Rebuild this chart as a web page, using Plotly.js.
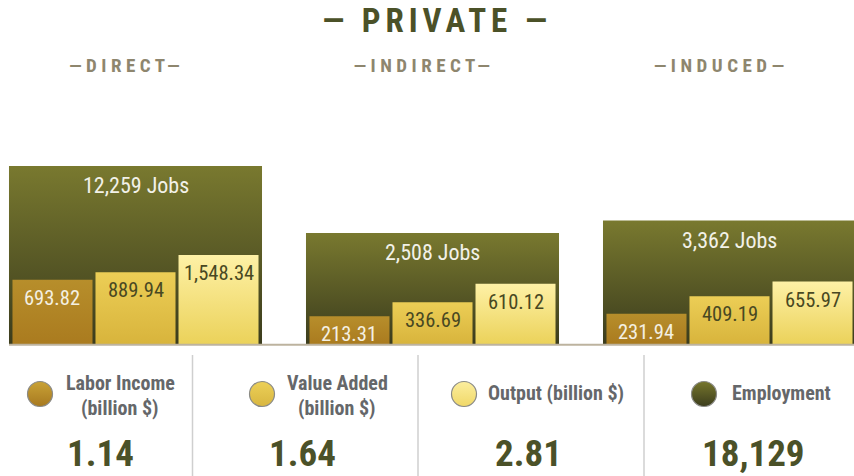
<!DOCTYPE html>
<html>
<head>
<meta charset="utf-8">
<script src="https://cdn.plot.ly/plotly-3.0.1.min.js"></script>
<style>
html,body{margin:0;padding:0;background:#fff;}
#chart{width:854px;height:476px;}
</style>
</head>
<body>
<div id="chart"></div>
<script>
// ---- data ----
const groups = ['DIRECT', 'INDIRECT', 'INDUCED'];
const employment = [12259, 2508, 3362];
const laborIncome = [693.82, 213.31, 231.94];
const valueAdded = [889.94, 336.69, 409.19];
const output = [1548.34, 610.12, 655.97];
const seriesNames = ['Labor Income', 'Value Added', 'Output', 'Employment'];

// ---- styling ----
const FONT = '"Roboto Condensed", "Liberation Sans Narrow", Roboto, sans-serif';
const OLIVE = '#4b5128';
const xs = groups.map((g, i) => i);
const innerW = 0.2694;
const innerCenters = [-0.2795, 0, 0.2795];
const innerSeries = [laborIncome, valueAdded, output];
const innerLabelColors = ['#f4f0e2', '#484822', '#484822'];
const yRange = [2.257, 2.257 + 194 / 97.2];
const y2Range = [1.94, 1.94 + 194 / 71.2];

const fmt2 = v => v.toLocaleString('en-US', {minimumFractionDigits: 2, maximumFractionDigits: 2});
const fmt0 = v => v.toLocaleString('en-US');
const sum = a => a.reduce((s, v) => s + v, 0);

const data = [];
data.push({
  type: 'bar', name: seriesNames[3], x: xs, y: employment, width: 0.8519,
  yaxis: 'y', xaxis: 'x', marker: {color: '#5a5a26', line: {width: 0}},
  hoverinfo: 'skip', showlegend: false
});
innerSeries.forEach((vals, k) => {
  data.push({
    type: 'bar', name: seriesNames[k], x: xs, y: vals, width: innerW,
    offset: innerCenters[k] - innerW / 2,
    yaxis: 'y2', xaxis: 'x', marker: {color: ['#b3882a', '#e2c24a', '#f6e27e'][k], line: {width: 0}},
    hoverinfo: 'skip', showlegend: false
  });
});

const ann = [];
employment.forEach((v, i) => {
  ann.push({x: xs[i], y: Math.log10(v), xref: 'x', yref: 'y', text: fmt0(v) + ' Jobs',
    showarrow: false, yanchor: 'middle', yshift: -20,
    font: {family: FONT, size: 22, color: '#f2f1e8'}});
});
innerSeries.forEach((vals, k) => {
  vals.forEach((v, i) => {
    ann.push({x: xs[i] + innerCenters[k], y: Math.log10(v), xref: 'x', yref: 'y2', text: fmt2(v),
      showarrow: false, yanchor: 'middle', yshift: -18,
      font: {family: FONT, size: 20.5, color: innerLabelColors[k]}});
  });
});
const subX = [126.5, 423.5, 721];
const subStart = ann.length;
groups.forEach((g, i) => {
  ann.push({x: subX[i] / 854, y: (344 - 65) / 194, xref: 'paper', yref: 'paper', text: '—' + g + '—',
    showarrow: false, xanchor: 'center', yanchor: 'middle',
    font: {family: FONT, size: 19, color: '#8e866e', weight: 'bold'}});
});
const subEnd = ann.length;
const P = (px, py) => ({x: px / 854, y: (344 - py) / 194});
const legText = [
  {t: 'Labor Income', p: P(120.5, 383)},
  {t: '(billion $)', p: P(120.5, 408)},
  {t: 'Value Added', p: P(337, 383)},
  {t: '(billion $)', p: P(337, 408)},
  {t: 'Output (billion $)', p: P(556, 393)},
  {t: 'Employment', p: P(781, 393)}
];
legText.forEach(o => {
  ann.push({x: o.p.x, y: o.p.y, xref: 'paper', yref: 'paper', text: o.t, showarrow: false,
    xanchor: 'center', yanchor: 'middle',
    font: {family: FONT, size: 20, color: '#65676a', weight: 'bold'}});
});
const totals = [
  (sum(laborIncome) / 1000).toFixed(2),
  (sum(valueAdded) / 1000).toFixed(2),
  (sum(output) / 1000).toFixed(2),
  fmt0(sum(employment))
];
const totX = [100, 302.5, 528, 753];
totals.forEach((t, i) => {
  const p = P(totX[i], 453.5);
  ann.push({x: p.x, y: p.y, xref: 'paper', yref: 'paper', text: t, showarrow: false,
    xanchor: 'center', yanchor: 'middle',
    font: {family: FONT, size: 37, color: OLIVE, weight: 'bold'}});
});

const shapes = [];
shapes.push({type: 'line', xref: 'paper', yref: 'paper', x0: 9 / 854, x1: 1, y0: P(0, 344.8).y, y1: P(0, 344.8).y,
  line: {color: '#bdb39f', width: 2}});
[192.5, 418, 644].forEach(px => {
  shapes.push({type: 'line', xref: 'paper', yref: 'paper', x0: px / 854, x1: px / 854,
    y0: P(0, 355).y, y1: P(0, 476).y, line: {color: '#cfcfcf', width: 1.5}});
});
const circX = [40, 262, 464, 704];
const circFill = ['#b8902c', '#e2c34c', '#f8e68a', '#57571f'];
const circStart = shapes.length;
circX.forEach((px, i) => {
  const p = P(px, 394);
  shapes.push({type: 'circle', xref: 'paper', yref: 'paper', xsizemode: 'pixel', ysizemode: 'pixel',
    xanchor: p.x, yanchor: p.y, x0: -12.5, x1: 12.5, y0: -12.5, y1: 12.5,
    fillcolor: circFill[i], line: {color: '#8a8a86', width: 1.2}});
});

const layout = {
  width: 854, height: 476,
  margin: {l: 0, r: 0, t: 150, b: 132, pad: 0},
  paper_bgcolor: '#ffffff', plot_bgcolor: '#ffffff',
  barmode: 'overlay',
  showlegend: false,
  title: {text: '— PRIVATE —', x: 437 / 854, xanchor: 'center', y: 1 - 20.5 / 476, yanchor: 'middle',
    font: {family: FONT, size: 33, color: OLIVE, weight: 'bold'}},
  xaxis: {range: [-135.5 / 297, 718.5 / 297], visible: false, fixedrange: true},
  yaxis: {type: 'log', range: yRange, visible: false, fixedrange: true},
  yaxis2: {type: 'log', overlaying: 'y', range: y2Range, visible: false, fixedrange: true},
  annotations: ann,
  shapes: shapes
};

const gd = document.getElementById('chart');
Plotly.newPlot(gd, data, layout, {displayModeBar: false, staticPlot: true}).then(() => {
  const ns = 'http://www.w3.org/2000/svg';
  const svg = gd.querySelector('.main-svg');
  let defs = svg.querySelector('defs');
  if (!defs) { defs = document.createElementNS(ns, 'defs'); svg.insertBefore(defs, svg.firstChild); }
  let gid = 0;
  function grad(top, bottom, y1, y2) {
    const id = 'grad' + (gid++);
    const lg = document.createElementNS(ns, 'linearGradient');
    lg.setAttribute('id', id);
    if (y1 !== undefined) {
      lg.setAttribute('gradientUnits', 'userSpaceOnUse');
      lg.setAttribute('x1', '0'); lg.setAttribute('x2', '0');
      lg.setAttribute('y1', y1); lg.setAttribute('y2', y2);
    } else {
      lg.setAttribute('x1', '0'); lg.setAttribute('y1', '0');
      lg.setAttribute('x2', '0'); lg.setAttribute('y2', '1');
    }
    [[0, top], [1, bottom]].forEach(s => {
      const st = document.createElementNS(ns, 'stop');
      st.setAttribute('offset', s[0]);
      st.setAttribute('stop-color', s[1]);
      lg.appendChild(st);
    });
    defs.appendChild(lg);
    return 'url(#' + id + ')';
  }
  const barCols = {
    'Employment': ['#79792f', '#3b3c1d'],
    'Labor Income': ['#b78e2b', '#aa7b1f'],
    'Value Added': ['#ecce56', '#d8b43c'],
    'Output': ['#fef1a6', '#ebd25a']
  };
  const plotH = gd._fullLayout._size.h;
  gd.querySelectorAll('g.trace.bars').forEach(g => {
    const cd = g.__data__;
    const tr = cd && cd[0] && cd[0].trace;
    if (tr && barCols[tr.name]) {
      g.querySelectorAll('path').forEach(p => {
        const bb = p.getBBox();
        const top = Math.max(bb.y, 0);
        p.style.fill = grad(barCols[tr.name][0], barCols[tr.name][1], top, plotH);
      });
    }
  });
  const circG = [grad('#c9a236', '#a77920'), grad('#ecd058', '#d8b640'),
                 grad('#fcee9e', '#f0d868'), grad('#76762c', '#3c3d1d')];
  gd.querySelectorAll('.shapelayer path').forEach(p => {
    const idx = +p.getAttribute('data-index');
    if (idx >= circStart && idx < circStart + 4) p.style.fill = circG[idx - circStart];
  });
  const t = gd.querySelector('.gtitle');
  if (t) t.style.letterSpacing = '5px';
  for (let i = subStart; i < subEnd; i++) {
    const a = gd.querySelector('.annotation[data-index="' + i + '"] text');
    if (a) a.style.letterSpacing = '4.5px';
  }
});
</script>
</body>
</html>
